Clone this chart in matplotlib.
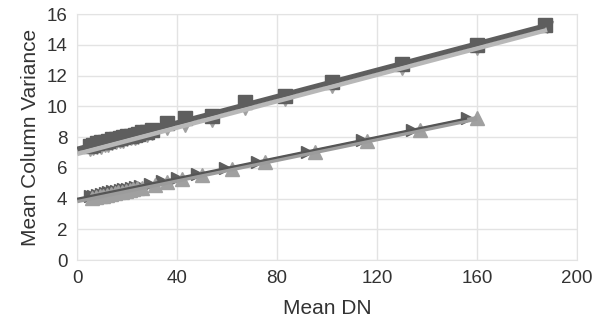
import matplotlib
matplotlib.use("Agg")
import matplotlib.pyplot as plt
import numpy as np

plt.rcParams['font.family'] = ['Liberation Sans', 'DejaVu Sans']

# Upper pair (dark squares, light down-triangles)
sq_x = [5, 6.5, 8, 9.5, 11, 12.5, 14, 15.5, 17, 18.5, 20, 21.5, 23, 24.5, 26, 28, 30, 36, 43, 54, 67, 83, 102, 130, 160, 187]
sq_y = [7.45, 7.5, 7.6, 7.65, 7.7, 7.75, 7.85, 7.9, 7.95, 8.0, 8.05, 8.1, 8.15, 8.2, 8.3, 8.35, 8.45, 8.9, 9.25, 9.4, 10.3, 10.7, 11.6, 12.75, 14.0, 15.3]
dt_x = [5, 6.5, 8, 9.5, 11, 12.5, 14, 15.5, 17, 18.5, 20, 21.5, 23, 24.5, 26, 28, 30, 36, 43, 54, 67, 83, 102, 130, 160, 188]
dt_y = [7.15, 7.2, 7.3, 7.3, 7.4, 7.45, 7.55, 7.6, 7.65, 7.7, 7.8, 7.85, 7.9, 7.95, 8.05, 8.1, 8.2, 8.5, 8.75, 9.05, 9.85, 10.4, 11.25, 12.45, 13.7, 15.15]

# Lower pair (dark right-triangles, light up-triangles)
rt_x = [5, 6.5, 8, 9.5, 11, 12.5, 14, 15.5, 17, 18.5, 20, 21.5, 23, 25, 29, 34, 40, 48, 59, 72, 92, 114, 134, 156]
rt_y = [4.15, 4.2, 4.25, 4.32, 4.35, 4.4, 4.47, 4.5, 4.55, 4.62, 4.65, 4.7, 4.76, 4.82, 4.97, 5.12, 5.33, 5.6, 5.98, 6.4, 7.06, 7.8, 8.47, 9.22]
ut_x = [6, 7.5, 9, 10.5, 12, 13.5, 15, 16.5, 18, 19.5, 21, 22.5, 24, 26, 31, 36, 42, 50, 62, 75, 95, 116, 137, 160]
ut_y = [4.06, 4.1, 4.15, 4.2, 4.26, 4.3, 4.36, 4.4, 4.46, 4.5, 4.56, 4.6, 4.66, 4.72, 4.9, 5.06, 5.26, 5.52, 5.94, 6.37, 7.04, 7.74, 8.46, 9.22]

xticks = [0, 40, 80, 120, 160, 200]
yticks = [0, 2, 4, 6, 8, 10, 12, 14, 16]

dark = '#5e5e5e'
light = '#a0a0a0'

fig = plt.figure(figsize=(5.98, 3.36), dpi=100)
ax = fig.add_axes([0.129, 0.226, 0.836, 0.732])

def trend(x, y, color, lw):
    p = np.polyfit(x, y, 1)
    xs = np.array([0, max(x)])
    ax.plot(xs, np.polyval(p, xs), color=color, lw=lw, zorder=5, solid_capstyle='butt')

ax.plot(dt_x, dt_y, linestyle='none', marker='v', ms=9, color=light, zorder=3)
ax.plot(sq_x, sq_y, linestyle='none', marker='s', ms=9.5, color=dark, zorder=4)
ax.plot(rt_x, rt_y, linestyle='none', marker='>', ms=9, color=dark, zorder=3)
ax.plot(ut_x, ut_y, linestyle='none', marker='^', ms=9.5, color=light, zorder=4)
trend(dt_x, dt_y, '#b8b8b8', 3.5)
trend(sq_x, sq_y, dark, 3.5)
trend(ut_x, ut_y, '#9c9c9c', 3.5)
trend(rt_x, rt_y, '#555555', 1.6)

ax.set_xlim(0, 200)
ax.set_ylim(0, 16)
ax.set_xticks(xticks)
ax.set_yticks(yticks)
ax.grid(True, color='#e3e3e3', lw=1)
ax.set_axisbelow(True)
for s in ax.spines.values():
    s.set_color('#e3e3e3')
ax.tick_params(length=0, labelsize=13.5, colors='#333333', pad=7)
ax.set_xlabel('Mean DN', fontsize=15, color='#333333', labelpad=9)
ax.set_ylabel('Mean Column Variance', fontsize=15, color='#333333', labelpad=5)

fig.savefig('out.png', dpi=100)
